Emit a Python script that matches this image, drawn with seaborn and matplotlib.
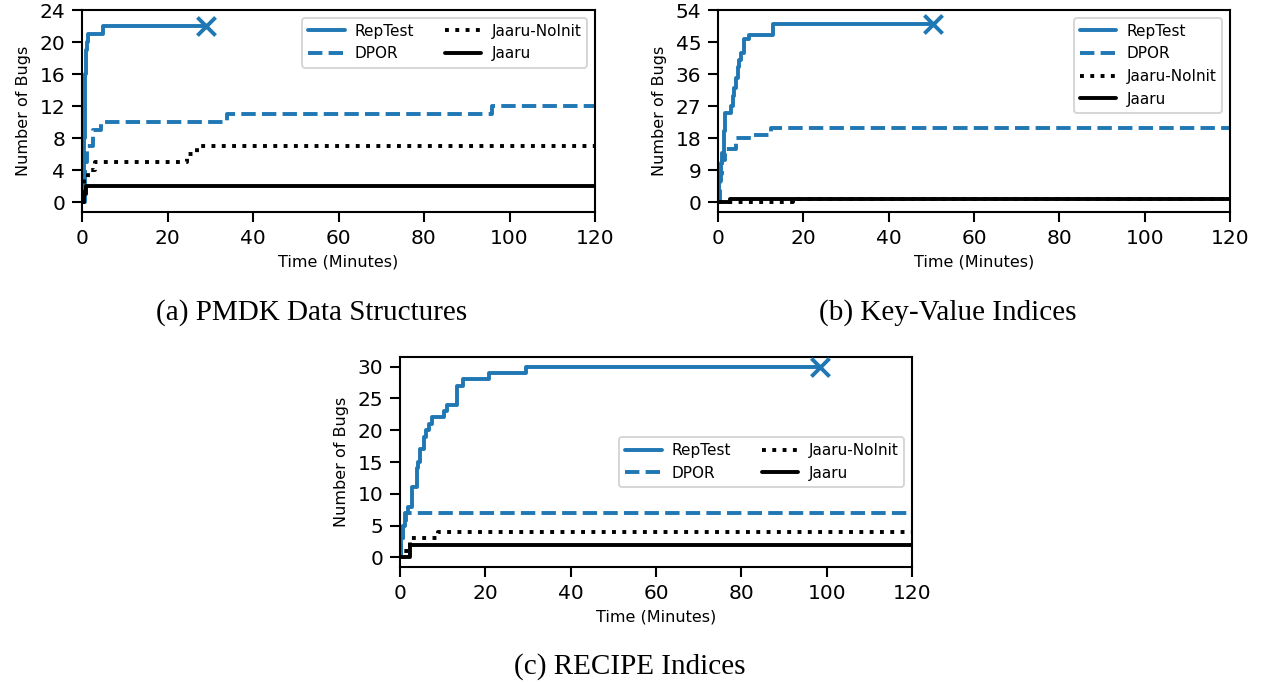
import matplotlib
matplotlib.use("Agg")
import matplotlib.pyplot as plt
import seaborn as sns

# ---------------- data ----------------
series_names = ["RepTest", "DPOR", "Jaaru-NoInit", "Jaaru"]
captions = ["(a) PMDK Data Structures", "(b) Key-Value Indices", "(c) RECIPE Indices"]
x_ticks = [0, 20, 40, 60, 80, 100, 120]

# (a) PMDK Data Structures
a_reptest_t = [0, 0.3, 0.4, 0.5, 0.6, 0.7, 0.8, 0.9, 1.0, 1.2, 1.5, 5, 29]
a_reptest_v = [0, 2, 5, 8, 11, 14, 16, 17, 19, 20, 21, 22, 22]
a_dpor_t = [0, 0.6, 1.2, 2.5, 4.5, 34, 96, 120]
a_dpor_v = [0, 5, 7, 9, 10, 11, 12, 12]
a_noinit_t = [0, 0.5, 1.5, 3, 24.5, 27, 120]
a_noinit_v = [0, 3, 4, 5, 6, 7, 7]
a_jaaru_t = [0, 0.5, 1.0, 120]
a_jaaru_v = [0, 1, 2, 2]
a_yticks = [0, 4, 8, 12, 16, 20, 24]

# (b) Key-Value Indices
b_reptest_t = [0, 0.3, 0.6, 0.9, 1.3, 1.6, 3.0, 3.4, 3.8, 4.2, 4.6, 5.0, 5.5, 6.0, 7.3, 13, 50.4]
b_reptest_v = [0, 6, 11, 14, 20, 25, 27, 30, 32, 35, 38, 40, 42, 46, 47, 50, 50]
b_dpor_t = [0, 0.5, 1.0, 1.6, 4.2, 8.0, 12.5, 120]
b_dpor_v = [0, 8, 12, 15, 18, 19, 21, 21]
b_noinit_t = [0, 17.5, 120]
b_noinit_v = [0, 1, 1]
b_jaaru_t = [0, 2.8, 120]
b_jaaru_v = [0, 1, 1]
b_yticks = [0, 9, 18, 27, 36, 45, 54]

# (c) RECIPE Indices
c_reptest_t = [0, 0.3, 0.8, 1.2, 1.9, 2.7, 3.9, 4.3, 4.8, 5.6, 6.1, 6.8, 7.4, 10.3, 11.0,
               13.4, 14.7, 20.9, 29.5, 98.4]
c_reptest_v = [0, 3, 5, 7, 8, 11, 14, 15, 17, 19, 20, 21, 22, 23, 24, 27, 28, 29, 30, 30]
c_dpor_t = [0, 0.3, 0.8, 1.3, 120]
c_dpor_v = [0, 3, 5, 7, 7]
c_noinit_t = [0, 0.6, 2.3, 9.0, 120]
c_noinit_v = [0, 1, 3, 4, 4]
c_jaaru_t = [0, 2.3, 120]
c_jaaru_v = [0, 2, 2]
c_yticks = [0, 5, 10, 15, 20, 25, 30]

# ---------------- style ----------------
sns.set_style("ticks")
plt.rcParams["font.family"] = ["DejaVu Sans"]
plt.rcParams.update({
    "axes.edgecolor": "black",
    "axes.linewidth": 1.5,
    "xtick.color": "black",
    "ytick.color": "black",
    "xtick.major.size": 7,
    "ytick.major.size": 7,
    "xtick.major.width": 1.5,
    "ytick.major.width": 1.5,
    "xtick.major.pad": 5,
    "ytick.major.pad": 5,
    "text.color": "black",
    "axes.labelcolor": "black",
})

BLUE = "#1f77b4"
styles = [(BLUE, "-"), (BLUE, "--"), ("black", ":"), ("black", "-")]

W, H = 1261, 684
fig = plt.figure(figsize=(W / 100, H / 100), dpi=100)


def make_ax(left, top, right, bottom):
    return fig.add_axes([left / W, 1 - bottom / H, (right - left) / W, (bottom - top) / H])


panels = [
    dict(ax=make_ax(82, 10, 595, 212),
         data=[(a_reptest_t, a_reptest_v), (a_dpor_t, a_dpor_v),
               (a_noinit_t, a_noinit_v), (a_jaaru_t, a_jaaru_v)],
         yticks=a_yticks, ncol=2, loc="upper right"),
    dict(ax=make_ax(718, 10, 1230, 212),
         data=[(b_reptest_t, b_reptest_v), (b_dpor_t, b_dpor_v),
               (b_noinit_t, b_noinit_v), (b_jaaru_t, b_jaaru_v)],
         yticks=b_yticks, ncol=1, loc="upper right"),
    dict(ax=make_ax(400, 357, 912, 567),
         data=[(c_reptest_t, c_reptest_v), (c_dpor_t, c_dpor_v),
               (c_noinit_t, c_noinit_v), (c_jaaru_t, c_jaaru_v)],
         yticks=c_yticks, ncol=2, loc="center right"),
]

for p in panels:
    ax = p["ax"]
    for name, (t, v), (col, ls) in zip(series_names, p["data"], styles):
        sns.lineplot(x=t, y=v, ax=ax, color=col, linestyle=ls, linewidth=2.8,
                     drawstyle="steps-post", label=name, sort=False)
    rt, rv = p["data"][0]
    sns.scatterplot(x=[rt[-1]], y=[rv[-1]], ax=ax, marker="x", s=170,
                    color=BLUE, linewidth=2.8, zorder=5)
    ymax = p["yticks"][-1]
    ax.set_xlim(0, 120)
    ax.set_ylim(-0.05 * ymax, ymax if ymax != 30 else 31.5)
    ax.set_xticks(x_ticks)
    ax.set_yticks(p["yticks"])
    ax.tick_params(labelsize=14.5)
    ax.set_xlabel("Time (Minutes)", fontsize=11.5, labelpad=5)
    ax.set_ylabel("Number of Bugs", fontsize=11.5, labelpad=6)
    leg = ax.legend(loc=p["loc"], ncol=p["ncol"], fontsize=11, handlelength=2.4,
                    handletextpad=0.65, columnspacing=2.0, frameon=True)
    leg.get_frame().set_linewidth(1.4)

cap_font = dict(family=["Liberation Serif", "DejaVu Serif"], fontsize=21)
fig.text(312 / W, 1 - 313 / H, captions[0], ha="center", va="center", **cap_font)
fig.text(948 / W, 1 - 313 / H, captions[1], ha="center", va="center", **cap_font)
fig.text(630 / W, 1 - 667 / H, captions[2], ha="center", va="center", **cap_font)

fig.savefig("out.png", dpi=100)
